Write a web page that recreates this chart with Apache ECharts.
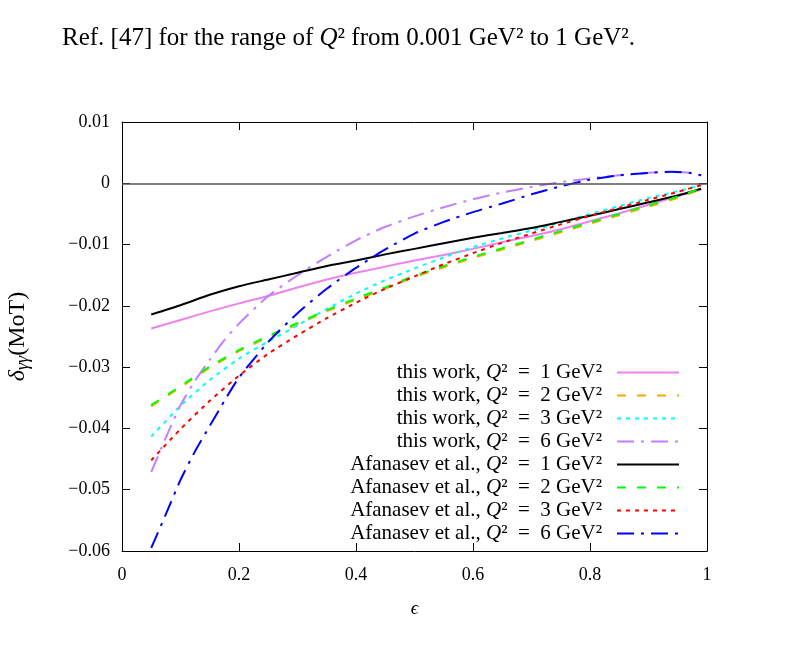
<!DOCTYPE html>
<html>
<head>
<meta charset="utf-8">
<script src="https://cdn.jsdelivr.net/npm/echarts@6/dist/echarts.min.js"></script>
<style>
  html, body { margin: 0; padding: 0; background: #fff; }
  #chart { width: 792px; height: 656px; }
</style>
</head>
<body>
<div id="chart"></div>
<script>
// epsilon values / delta values
const epsA = [0.05, 0.1, 0.15, 0.2, 0.25, 0.3, 0.35, 0.4, 0.45, 0.5, 0.55, 0.6, 0.65, 0.7, 0.75, 0.8, 0.85, 0.9, 0.95, 0.99];

const thisQ1 = [-0.0237, -0.0223, -0.0209, -0.0196, -0.0184, -0.0170, -0.0157, -0.0146, -0.0136, -0.0126, -0.0117, -0.0107, -0.0096, -0.0086, -0.0075, -0.0062, -0.0049, -0.0035, -0.0021, -0.0010];
const thisQ2 = [-0.0364, -0.0333, -0.0301, -0.0274, -0.0251, -0.0230, -0.0209, -0.0190, -0.0172, -0.0153, -0.0137, -0.0122, -0.0108, -0.0094, -0.0080, -0.0066, -0.0052, -0.0038, -0.0024, -0.0009];
const thisQ3 = [-0.0413, -0.0363, -0.0321, -0.0286, -0.0258, -0.0232, -0.0205, -0.0180, -0.0158, -0.0139, -0.0121, -0.0104, -0.0090, -0.0077, -0.0064, -0.0050, -0.0037, -0.0024, -0.0013, -0.0003];
const afaQ1 = [-0.0214, -0.0199, -0.0182, -0.0168, -0.0157, -0.0146, -0.0135, -0.0126, -0.0116, -0.0107, -0.0098, -0.0089, -0.0081, -0.0073, -0.0063, -0.0053, -0.0042, -0.0031, -0.0020, -0.0009];
const afaQ2 = [-0.0362, -0.0331, -0.0299, -0.0272, -0.0249, -0.0228, -0.0207, -0.0188, -0.0170, -0.0151, -0.0135, -0.0120, -0.0106, -0.0092, -0.0078, -0.0064, -0.0050, -0.0036, -0.0022, -0.0008];
const afaQ3 = [-0.0452, -0.0401, -0.0355, -0.0314, -0.0278, -0.0248, -0.0220, -0.0195, -0.0172, -0.0152, -0.0132, -0.0114, -0.0097, -0.0082, -0.0067, -0.0053, -0.0040, -0.0027, -0.0014, -0.0003];

// Q^2 = 6 curves have denser points where they bend
const epsB = [0.05, 0.075, 0.1, 0.125, 0.15, 0.175, 0.2, 0.25, 0.3, 0.35, 0.4, 0.45, 0.5, 0.55, 0.6, 0.65, 0.7, 0.75, 0.8, 0.85, 0.9, 0.94, 0.97, 0.99];
const thisQ6 = [-0.0471, -0.0415, -0.0362, -0.0322, -0.0288, -0.0256, -0.0229, -0.0184, -0.0150, -0.0120, -0.0093, -0.0071, -0.0054, -0.0039, -0.0026, -0.0015, -0.0006, 0.0002, 0.0008, 0.0013, 0.0017, 0.0019, 0.0017, 0.0013];
const afaQ6 = [-0.0595, -0.0540, -0.0484, -0.0437, -0.0396, -0.0355, -0.0317, -0.0259, -0.0212, -0.0172, -0.0138, -0.0108, -0.0082, -0.0063, -0.0047, -0.0033, -0.0018, -0.0005, 0.0006, 0.0013, 0.0017, 0.0019, 0.0017, 0.0013];

const xTicks = [0, 0.2, 0.4, 0.6, 0.8, 1];
const yTicks = [-0.06, -0.05, -0.04, -0.03, -0.02, -0.01, 0, 0.01];

const seriesNames = ['t1', 't2', 't3', 't6', 'a1', 'a2', 'a3', 'a6'];
const EQ = '\u2002=\u2002';
const legendText = {
  t1: 'this work, {q|Q}²' + EQ + '1 GeV²',
  t2: 'this work, {q|Q}²' + EQ + '2 GeV²',
  t3: 'this work, {q|Q}²' + EQ + '3 GeV²',
  t6: 'this work, {q|Q}²' + EQ + '6 GeV²',
  a1: 'Afanasev et al., {q|Q}²' + EQ + '1 GeV²',
  a2: 'Afanasev et al., {q|Q}²' + EQ + '2 GeV²',
  a3: 'Afanasev et al., {q|Q}²' + EQ + '3 GeV²',
  a6: 'Afanasev et al., {q|Q}²' + EQ + '6 GeV²'
};

const FONT = '"Liberation Serif", "DejaVu Serif", serif';

function pairs(xs, ys) {
  return xs.map((x, i) => [x, ys[i]]);
}

function mkLine(name, xs, ys, color, type) {
  return {
    name: name,
    type: 'line',
    data: pairs(xs, ys),
    symbol: 'none',
    smooth: 0.2,
    color: color,
    lineStyle: { color: color, width: 2, type: type },
    z: 3
  };
}

const dashDot = [17, 7, 3, 7];

let myChart = echarts.init(document.getElementById('chart'), null, { renderer: 'canvas' });

let series = [
  mkLine('t1', epsA, thisQ1, '#ee82ee', 'solid'),
  mkLine('t2', epsA, thisQ2, '#ffa500', [9, 11]),
  mkLine('t3', epsA, thisQ3, '#00ffff', [4, 5]),
  mkLine('t6', epsB, thisQ6, '#c080ff', dashDot),
  mkLine('a1', epsA, afaQ1, '#000000', 'solid'),
  mkLine('a2', epsA, afaQ2, '#00ff00', [9, 11]),
  mkLine('a3', epsA, afaQ3, '#ff0000', [4, 5]),
  mkLine('a6', epsB, afaQ6, '#0000ff', dashDot)
];

// zero line
series[0].markLine = {
  silent: true,
  symbol: 'none',
  label: { show: false },
  lineStyle: { color: '#555', width: 1.5, type: 'solid' },
  data: [{ yAxis: 0 }]
};

const tickStyle = { show: true, inside: true, length: 8, lineStyle: { color: '#000' } };
const lineStyleAx = { show: true, onZero: false, lineStyle: { color: '#000', width: 1 } };

let option = {
  backgroundColor: '#fff',
  animation: false,
  textStyle: { fontFamily: FONT },
  grid: { left: 122, right: 85, top: 122, bottom: 105, outerBoundsMode: 'none' },
  graphic: [
    {
      type: 'text',
      left: 62,
      top: 26,
      style: {
        text: 'Ref. [47] for the range of {q|Q}² from 0.001 GeV² to 1 GeV².',
        font: '25px ' + FONT,
        fill: '#000',
        rich: { q: { fontStyle: 'italic', fontSize: 25, fontFamily: FONT } }
      }
    }
  ],
  legend: {
    data: seriesNames,
    orient: 'vertical',
    align: 'right',
    right: 112,
    top: 362,
    padding: 0,
    itemWidth: 62,
    itemHeight: 14,
    itemGap: 2,
    itemStyle: { opacity: 0 },
    formatter: (name) => legendText[name],
    textStyle: {
      fontFamily: FONT,
      fontSize: 21,
      lineHeight: 18,
      color: '#000',
      padding: [0, 10, 0, 0],
      rich: { q: { fontStyle: 'italic', fontSize: 21, lineHeight: 18, fontFamily: FONT } }
    }
  },
  xAxis: [
    {
      type: 'value',
      min: 0,
      max: 1,
      interval: 0.2,
      name: 'ϵ',
      nameLocation: 'middle',
      nameGap: 48,
      nameTextStyle: { fontFamily: FONT, fontSize: 19, fontStyle: 'italic', color: '#000' },
      axisLine: lineStyleAx,
      axisTick: tickStyle,
      axisLabel: { fontFamily: FONT, fontSize: 18, color: '#000', margin: 15,
        formatter: (v) => String(+v.toFixed(1)) },
      splitLine: { show: false }
    },
    {
      type: 'value',
      position: 'top',
      min: 0,
      max: 1,
      interval: 0.2,
      axisLine: lineStyleAx,
      axisTick: tickStyle,
      axisLabel: { show: false },
      splitLine: { show: false }
    }
  ],
  yAxis: [
    {
      type: 'value',
      min: -0.06,
      max: 0.01,
      interval: 0.01,
      name: '{d|δ}{s|γγ}{n|(MoT)}',
      nameLocation: 'middle',
      nameGap: 90,
      nameRotate: 90,
      nameTextStyle: {
        color: '#000',
        rich: {
          d: { fontFamily: FONT, fontSize: 24, fontStyle: 'italic', lineHeight: 28, verticalAlign: 'middle' },
          s: { fontFamily: FONT, fontSize: 18, fontStyle: 'italic', lineHeight: 28, verticalAlign: 'bottom' },
          n: { fontFamily: FONT, fontSize: 24, lineHeight: 28, verticalAlign: 'middle' }
        }
      },
      axisLine: lineStyleAx,
      axisTick: tickStyle,
      axisLabel: { fontFamily: FONT, fontSize: 18, color: '#000', margin: 12,
        formatter: (v) => {
          let r = Math.round(v * 100) / 100;
          if (r === 0) return '0';
          return r.toFixed(2).replace('-', '−');
        } },
      splitLine: { show: false }
    },
    {
      type: 'value',
      position: 'right',
      min: -0.06,
      max: 0.01,
      interval: 0.01,
      axisLine: lineStyleAx,
      axisTick: tickStyle,
      axisLabel: { show: false },
      splitLine: { show: false }
    }
  ],
  series: series
};

myChart.setOption(option);
window.addEventListener('resize', function () { myChart.resize() });
</script>
</body>
</html>
